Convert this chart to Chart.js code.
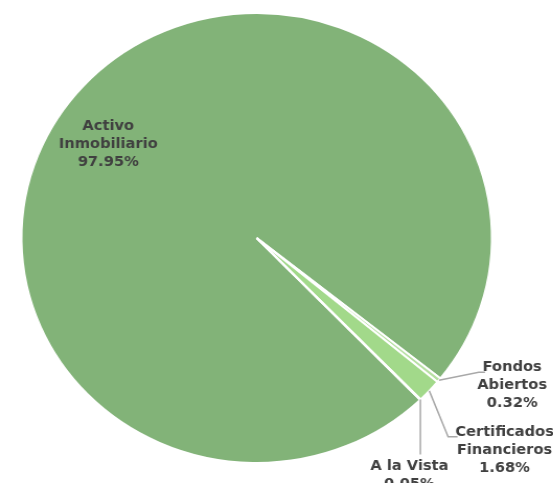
<!DOCTYPE html>
<html>
<head>
<meta charset="utf-8">
<script src="https://cdn.jsdelivr.net/npm/chart.js@4.4.1/dist/chart.umd.min.js"></script>
<style>
    html, body { margin: 0; padding: 0; background: #fff; overflow: hidden; }
    #wrap { width: 553px; height: 483px; overflow: hidden; }
    /* the reference is stretched a little horizontally */
    #chart { display: block; transform: scaleX(1.0455); transform-origin: 0 0; }
</style>
</head>
<body>
<div id="wrap"><canvas id="chart" width="529" height="483" style="width:529px;height:483px"></canvas></div>
<script>
// --- DONNÉES ---
const categories = ['Activo Inmobiliario', 'Fondos Abiertos', 'Certificados Financieros', 'A la Vista'];
const labelLines = [['Activo', 'Inmobiliario'], ['Fondos', 'Abiertos'], ['Certificados', 'Financieros'], ['A la Vista']];
const shares = [97.95, 0.32, 1.68, 0.05];
const sliceColors = ['#82b378', '#b6e0a2', '#a2d98a', '#9fd489'];

// --- Étiquettes avec lignes de rappel ---
const pieLabels = {
    id: 'pieLabels',
    afterDatasetsDraw(chart, args, opts) {
        const ctx = chart.ctx;
        const meta = chart.getDatasetMeta(0);
        ctx.save();
        ctx.font = opts.font;
        ctx.fillStyle = opts.color;
        ctx.textAlign = 'center';
        ctx.textBaseline = 'middle';

        meta.data.forEach((arc, i) => {
            const p = opts.placement[i];
            const lines = labelLines[i].concat([shares[i].toFixed(2) + '%']);
            const mid = (arc.startAngle + arc.endAngle) / 2;

            if (p.inside) {
                const a = mid + p.angleShift * Math.PI / 180;
                const r = arc.outerRadius * p.radius;
                const cx = arc.x + Math.cos(a) * r;
                const cy = arc.y + Math.sin(a) * r;
                const top = cy - (lines.length - 1) * opts.lineHeight / 2;
                lines.forEach((t, k) => ctx.fillText(t, cx, top + k * opts.lineHeight));
                return;
            }

            const ex = arc.x + Math.cos(mid) * arc.outerRadius;
            const ey = arc.y + Math.sin(mid) * arc.outerRadius;
            const bx = ex + p.elbow[0];
            const by = ey + p.elbow[1];
            const endX = bx + p.run;

            ctx.beginPath();
            ctx.strokeStyle = opts.lineColor;
            ctx.lineWidth = 1.5;
            ctx.moveTo(ex, ey);
            ctx.lineTo(bx, by);
            ctx.lineTo(endX, by);
            ctx.stroke();

            const tx = endX + p.text[0];
            const ty = by + p.text[1];
            lines.forEach((t, k) => ctx.fillText(t, tx, ty + k * opts.lineHeight));
        });
        ctx.restore();
    }
};

new Chart(document.getElementById('chart'), {
    type: 'pie',
    data: {
        labels: categories,
        datasets: [{
            data: shares,
            backgroundColor: sliceColors,
            borderColor: '#ffffff',
            borderWidth: 2
        }]
    },
    options: {
        responsive: false,
        animation: false,
        rotation: 136,
        layout: { padding: { top: 12, bottom: 19, left: 0, right: 38 } },
        plugins: {
            legend: { display: false },
            tooltip: { enabled: false },
            pieLabels: {
                font: 'bold 14px "DejaVu Sans", Verdana, sans-serif',
                color: '#404040',
                lineColor: '#a8a8a8',
                lineHeight: 18,
                placement: [
                    { inside: true, radius: 0.755, angleShift: -9 },
                    { elbow: [38, -8], run: 6, text: [26, -5] },
                    { elbow: [18, 46], run: 9, text: [45, -5] },
                    { elbow: [0, 55], run: 0, text: [-10.5, 12] }
                ]
            }
        }
    },
    plugins: [pieLabels]
});
</script>
</body>
</html>
